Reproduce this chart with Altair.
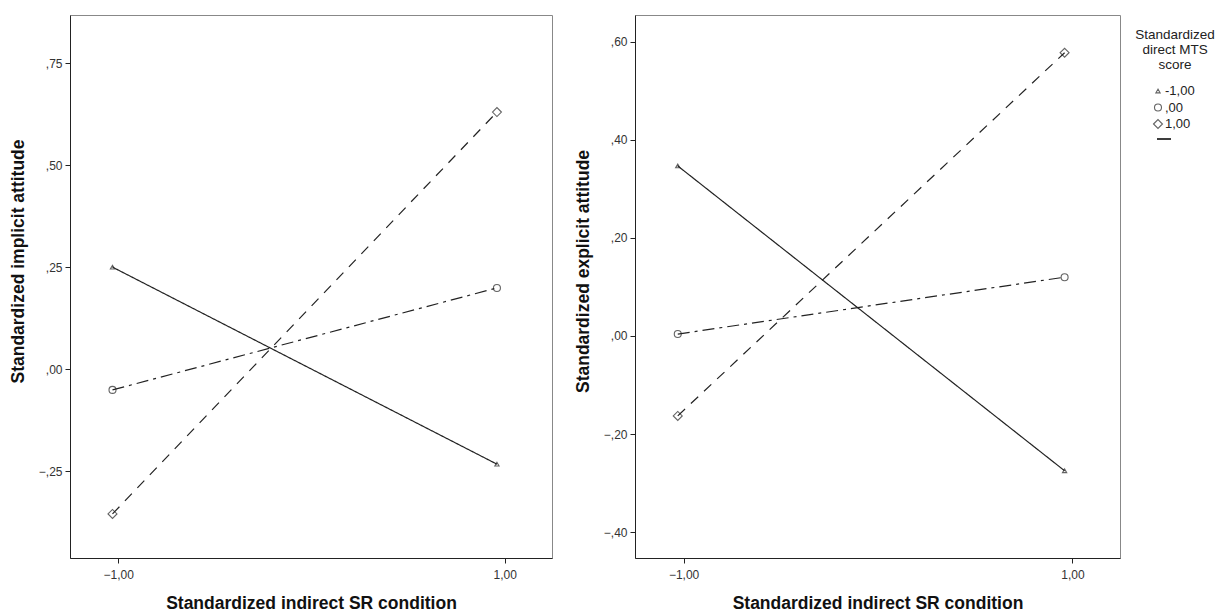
import altair as alt
import pandas as pd

# ---- data ----
groups = ["-1,00", ",00", "1,00"]          # Standardized direct MTS score
x_cond = [-1.03, 0.96]                      # Standardized indirect SR condition
implicit_tri = [0.25, -0.233]
implicit_circ = [-0.051, 0.199]
implicit_dia = [-0.355, 0.63]
explicit_tri = [0.347, -0.275]
explicit_circ = [0.004, 0.12]
explicit_dia = [-0.163, 0.578]

x_ticks = [-1, 1]
implicit_ticks = [-0.25, 0, 0.25, 0.5, 0.75]
explicit_ticks = [-0.4, -0.2, 0, 0.2, 0.4, 0.6]
implicit_domain = [-0.463, 0.868]
explicit_domain = [-0.453, 0.655]
x_domain = [-1.25, 1.245]
legend_title = "Standardized\ndirect MTS\nscore"

FONT = "Liberation Sans"
INK = "#222222"
LABEL_EXPR = "replace(replace(format(datum.value, '.2f'), '0.', ','), '.', ',')"

shape_scale = alt.Scale(domain=groups, range=["triangle-up", "circle", "diamond"])
size_scale = alt.Scale(domain=groups, range=[18, 80, 64])
dash_scale = alt.Scale(domain=groups, range=[[1, 0], [12, 5, 3, 5], [10, 8]])


def make_df(tri, circ, dia):
    rows = []
    for g, vals in zip(groups, [tri, circ, dia]):
        for xv, yv in zip(x_cond, vals):
            rows.append({"x": xv, "y": yv, "group": g})
    return pd.DataFrame(rows)


def panel(df, ydomain, yticks, ytitle, title_y):
    base = alt.Chart(df)
    x = alt.X("x:Q", scale=alt.Scale(domain=x_domain, nice=False, zero=False),
              axis=alt.Axis(values=x_ticks, labelExpr=LABEL_EXPR, labelPadding=6,
                            title="Standardized indirect SR condition", titlePadding=14))
    y = alt.Y("y:Q", scale=alt.Scale(domain=ydomain, nice=False, zero=False),
              axis=alt.Axis(values=yticks, labelExpr=LABEL_EXPR, labelPadding=3,
                            title=ytitle, titlePadding=11, titleY=title_y))
    lines = base.mark_line(color=INK, strokeWidth=1.2).encode(
        x=x, y=y, detail="group:N",
        strokeDash=alt.StrokeDash("group:N", legend=None, scale=dash_scale),
    )
    points = base.mark_point(color=INK, filled=False, strokeWidth=1.1).encode(
        x=x, y=y,
        shape=alt.Shape("group:N", legend=None, scale=shape_scale),
        size=alt.Size("group:N", legend=None, scale=size_scale),
    )
    return alt.layer(lines, points).properties(width=482, height=543)


left = panel(make_df(implicit_tri, implicit_circ, implicit_dia),
             implicit_domain, implicit_ticks, "Standardized implicit attitude", 246)
right = panel(make_df(explicit_tri, explicit_circ, explicit_dia),
              explicit_domain, explicit_ticks, "Standardized explicit attitude", 256
              ).properties(width=485)

# ---- legend drawn as its own small view ----
leg_df = pd.DataFrame({"group": groups})
leg_y = alt.Y("group:N", axis=None,
              scale=alt.Scale(type="point", domain=groups, range=[76, 109], padding=0))
leg_title = alt.Chart(pd.DataFrame({"t": [legend_title]})).mark_text(
    font=FONT, fontSize=13.5, color="#222", align="center", baseline="top",
    lineBreak="\n", lineHeight=15,
).encode(text="t:N", x=alt.value(45), y=alt.value(13))
leg_sym = alt.Chart(leg_df).mark_point(color=INK, filled=False, strokeWidth=1.1).encode(
    x=alt.value(28), y=leg_y,
    shape=alt.Shape("group:N", legend=None, scale=shape_scale),
    size=alt.Size("group:N", legend=None, scale=size_scale),
)
leg_lab = alt.Chart(leg_df).mark_text(
    font=FONT, fontSize=13, color="#222", align="left", baseline="middle",
).encode(x=alt.value(35), y=leg_y, text="group:N")
leg_rule = alt.Chart(leg_df).mark_rule(color=INK, strokeWidth=1).encode(
    x=alt.value(27), x2=alt.value(41), y=alt.value(124))
legend_view = alt.layer(leg_title, leg_sym, leg_lab, leg_rule).properties(
    width=84, height=543, view=alt.ViewBackground(stroke="transparent"))

panels = alt.hconcat(left, right, spacing=20).resolve_scale(
    x="independent", y="independent")

chart = alt.hconcat(panels, legend_view, spacing=8).resolve_scale(
    x="independent", y="independent"
).properties(
    padding={"left": 0, "top": 6, "right": 0, "bottom": 0}
).configure_view(
    stroke="#888888", strokeWidth=1
).configure_axis(
    grid=False, domainColor=INK, tickColor=INK, tickSize=5, zindex=1,
    labelFont=FONT, labelFontSize=12, labelColor="#333333",
    titleFont=FONT, titleFontSize=17.5, titleFontWeight="bold", titleColor="#111111",
)

chart.save("out.html", embed_options={"renderer": "svg", "actions": False})
